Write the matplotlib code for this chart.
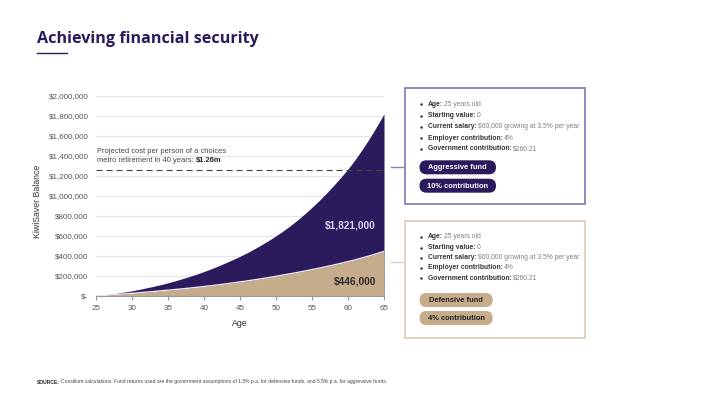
import numpy as np
import matplotlib.pyplot as plt
from matplotlib.patches import Rectangle, FancyBboxPatch

plt.rcParams['font.family'] = ['Liberation Sans', 'DejaVu Sans']

# data (thousands of dollars)
ages = list(range(25, 66))
aggressive_k = [0, 8, 18, 28, 40, 52, 66, 81, 97, 114,
                132, 152, 173, 196, 219, 245, 272, 301, 332, 364,
                397, 433, 472, 513, 556, 602, 651, 704, 761, 822,
                887, 955, 1028, 1105, 1186, 1270, 1365, 1468, 1578, 1697,
                1821]
defensive_k = [0, 5, 10, 16, 21, 27, 33, 39, 45, 52,
               58, 65, 72, 79, 87, 95, 103, 112, 121, 131,
               141, 151, 162, 173, 185, 197, 210, 223, 236, 250,
               264, 279, 294, 310, 327, 344, 362, 382, 402, 424,
               446]
retirement_cost = 1.26e6
y_ticks = [0, 200000, 400000, 600000, 800000, 1000000, 1200000, 1400000, 1600000, 1800000, 2000000]
y_tick_labels = ['$-'] + ['${:,.0f}'.format(v) for v in y_ticks[1:]]
x_ticks = [25, 30, 35, 40, 45, 50, 55, 60, 65]

bullet_items = [('Age:', '25 years old'),
                ('Starting value:', '0'),
                ('Current salary:', '$60,000 growing at 3.5% per year'),
                ('Employer contribution:', '4%'),
                ('Government contribution:', '$260.21')]
top_pills = ['Aggressive fund', '10% contribution']
bottom_pills = ['Defensive fund', '4% contribution']

PURPLE = '#2b1a5c'
TAN = '#c5ad8c'
W, H = 720, 405

aggressive = np.array(aggressive_k) * 1000
defensive = np.array(defensive_k) * 1000

fig = plt.figure(figsize=(7.2, 4.05), dpi=100)

# chart
ax = fig.add_axes([96 / W, 1 - 296 / H, (384 - 96) / W, (296 - 96) / H])
ax.fill_between(ages, 0, aggressive, color=PURPLE, lw=0)
ax.fill_between(ages, 0, defensive, color=TAN, lw=0)
ax.plot(ages, defensive, color='#efe6ef', lw=1)
ax.axhline(retirement_cost, color='#444444', lw=0.8, ls=(0, (5.5, 3.5)), zorder=3)

ax.set_xlim(25, 65)
ax.set_ylim(0, 2000000)
ax.set_yticks(y_ticks)
ax.set_yticklabels(y_tick_labels)
ax.set_xticks(x_ticks)
ax.grid(axis='y', color='#e6e6e6', lw=0.9)
ax.set_axisbelow(True)
for s in ['top', 'right', 'left']:
    ax.spines[s].set_visible(False)
ax.spines['bottom'].set_color('#999999')
ax.spines['bottom'].set_linewidth(0.8)
ax.tick_params(axis='y', length=0, labelsize=5.8, labelcolor='#555555', pad=5.5)
ax.tick_params(axis='x', length=3, color='#999999', labelsize=5.8, labelcolor='#555555', pad=3.5)

ax.text(63.85, 710000, '${:,.0f}'.format(aggressive[-1]), fontsize=7.3, fontweight='bold',
        color='#dcd4ee', ha='right', va='center')
ax.text(63.85, 150000, '${:,.0f}'.format(defensive[-1]), fontsize=7.3, fontweight='bold',
        color='#2a2a2a', ha='right', va='center')

# overlay in pixel coordinates for the slide furniture
ov = fig.add_axes([0, 0, 1, 1])
ov.set_xlim(0, W)
ov.set_ylim(H, 0)
ov.axis('off')
ov.patch.set_visible(False)

renderer = fig.canvas.get_renderer()


def two_part(x, y, bold, normal, size, c1, c2, gap=1.5):
    t = ov.text(x, y, bold, fontsize=size, fontweight='bold', color=c1, va='center')
    bb = t.get_window_extent(renderer)
    ov.text(bb.x1 + gap, y, normal, fontsize=size, color=c2, va='center')


# title
ov.text(37, 43, 'Achieving financial security', fontsize=11.6, fontweight='bold',
        color=PURPLE, family=['Open Sans', 'DejaVu Sans'], va='baseline')
ov.plot([37, 67], [52.5, 52.5], color=PURPLE, lw=1)

# axis labels
ov.text(240, 324, 'Age', fontsize=6.3, color='#333333', ha='center', va='center')
ov.text(37, 201, 'KiwiSaver Balance', fontsize=6.3, color='#333333', ha='center',
        va='center', rotation=90)

# retirement cost note
ov.text(97, 151.7, 'Projected cost per person of a choices', fontsize=5.4,
        color='#444444', va='center')
t = ov.text(97, 160.7, 'metro retirement in 40 years: ', fontsize=5.4, color='#444444', va='center')
bb = t.get_window_extent(renderer)
ov.text(bb.x1, 160.7, '${:.2f}m'.format(retirement_cost / 1e6), fontsize=5.4,
        fontweight='bold', color='#222222', va='center')

# connectors
ov.plot([391, 404], [167, 167], color='#8a80bb', lw=1)
ov.plot([391, 404], [262, 262], color='#dccfbd', lw=1)


def draw_box(top, bottom, edge, pills, pill_face, pill_text, bullet_y, pill_top, pill_w):
    ov.add_patch(Rectangle((404.5, top), 585 - 404.5, bottom - top, fill=False,
                           edgecolor=edge, lw=1.2))
    for (label, value), y in zip(bullet_items, bullet_y):
        ov.plot(421, y, 'o', ms=1.8, color='#333333', mew=0)
        two_part(427.7, y, label, value, 4.9, '#333333', '#808080')
    for label, y in zip(pills, pill_top):
        ov.add_patch(FancyBboxPatch((419.5, y), pill_w, 14,
                                    boxstyle='round,pad=0,rounding_size=7',
                                    facecolor=pill_face, edgecolor='none'))
        ov.text(419.5 + pill_w / 2, y + 7.3, label, fontsize=5.4, fontweight='bold',
                color=pill_text, ha='center', va='center')


draw_box(88, 204, '#7f74b6', top_pills, PURPLE, 'white',
         [104.3, 115.7, 127, 138, 149], [160.3, 178.7], 76.5)
draw_box(220.5, 337.5, '#d8cab6', bottom_pills, TAN, '#222222',
         [237, 247.7, 257.7, 267.7, 278], [293, 311], 73.2)

# source
two_part(37, 382, 'SOURCE:', 'Consilium calculations. Fund returns used are the government '
         'assumptions of 1.5% p.a. for defensive funds, and 5.5% p.a. for aggressive funds.',
         3.6, '#222222', '#444444', gap=1.5)

fig.savefig('out.png', dpi=100)
